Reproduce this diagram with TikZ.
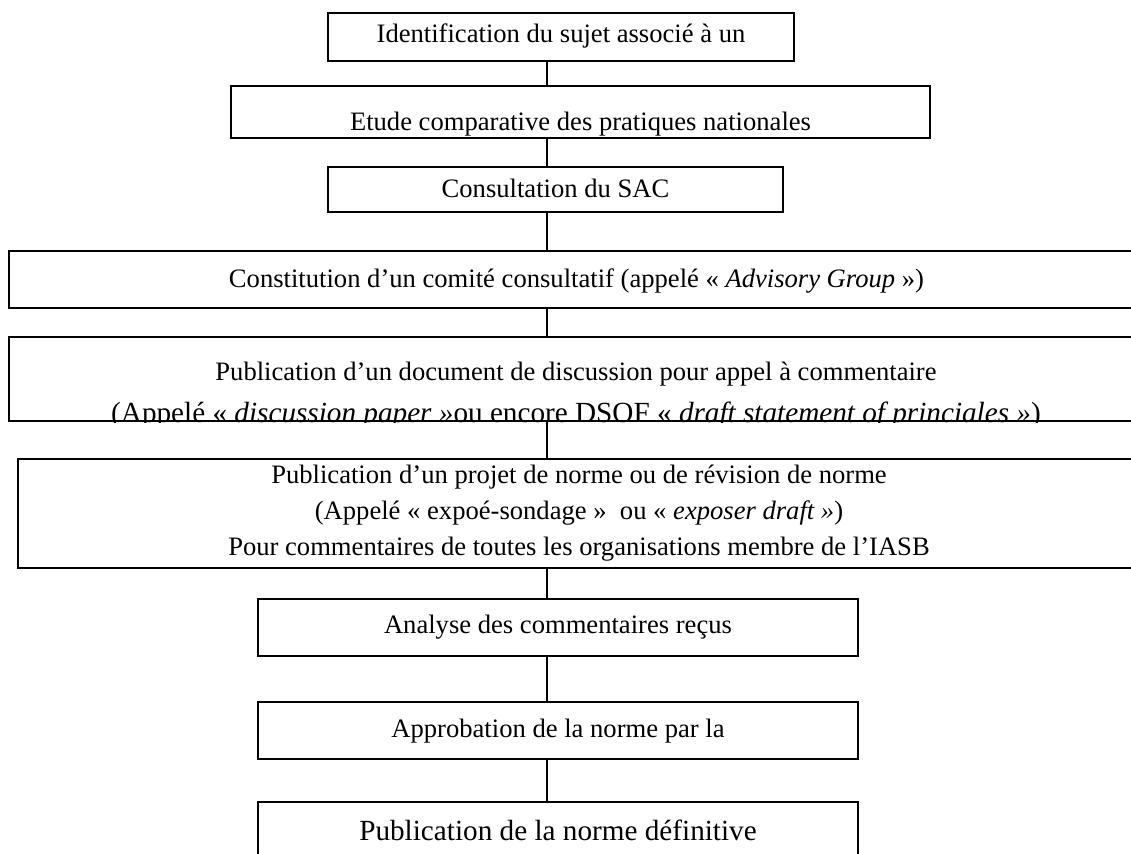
\documentclass[tikz,border=0pt]{standalone}
\usepackage{fontspec}
\setmainfont{Liberation Serif}

\begin{document}
\begin{tikzpicture}[font = \fontsize{7.57}{10.24}\selectfont,
	box/.style = {draw, rectangle, line width = 0.6pt, inner sep = 0pt},
	lift/.style = {text height = #1, text depth = 0.06cm},
	link/.style = {line width = 0.4pt}]

	% Frame of the page
	
	\useasboundingbox (0, 0) rectangle (11.31, -8.53);
	
	% Spine of the chart
	
	\coordinate (spine) at (5.47, 0);

	% Steps
	
		\node (step1) [box, lift = 0.174cm, minimum width = 4.66cm, minimum height = 0.48cm] at (5.61, -0.37) {Identification du sujet associé à un};
		\node (step2) [box, lift = 0.42cm, minimum width = 6.99cm, minimum height = 0.52cm] at (5.805, -1.12) {Etude comparative des pratiques nationales};
		\node (step3) [box, lift = 0.22cm, minimum width = 4.55cm, minimum height = 0.45cm] at (5.555, -1.895) {Consultation du SAC};
		\node (step4) [box, lift = 0.21cm, minimum width = 11.35cm, minimum height = 0.57cm] at (5.765, -2.795) {Constitution d’un comité consultatif (appelé « \textit{Advisory Group} »)};
		
		% Step 5, its second line runs over the frame
		
		\node (step5) [box, minimum width = 11.34cm, minimum height = 0.84cm] at (5.76, -3.79) {};
		
		\begin{scope}
		
			\clip (step5.south west) rectangle (step5.north east);
			\node (step5a) [anchor = base] at (5.76, -3.805) {Publication d’un document de discussion pour appel à commentaire};
			\node (step5b) [anchor = base, font = \fontsize{8.31}{10}\selectfont] at (5.76, -4.225) {(Appelé « \textit{discussion paper »}ou encore DSOF « \textit{draft statement of princiales »})};
		
		\end{scope}
		
		\node (step6) [box, align = center, minimum width = 11.22cm, minimum height = 1.09cm] at (5.79, -5.135) {Publication d’un projet de norme ou de révision de norme\\(Appelé « expoé-sondage » \ ou « \textit{exposer draft »})\\Pour commentaires de toutes les organisations membre de l’IASB};
		\node (step7) [box, lift = 0.17cm, minimum width = 6cm, minimum height = 0.57cm] at (5.58, -6.275) {Analyse des commentaires reçus};
		\node (step8) [box, lift = 0.19cm, minimum width = 6cm, minimum height = 0.57cm] at (5.58, -7.305) {Approbation de la norme par la};
		\node (step9) [box, lift = 0.18cm, minimum width = 6cm, minimum height = 0.64cm, font = \fontsize{8.31}{10}\selectfont] at (5.58, -8.34) {Publication de la norme définitive};

	% Links between steps
	
	\foreach \a/\b in {step1/step2, step2/step3, step3/step4, step4/step5, step5/step6, step6/step7, step7/step8, step8/step9}
		\draw [link] (\a.south -| spine) -- (\b.north -| spine);

\end{tikzpicture}
\end{document}
